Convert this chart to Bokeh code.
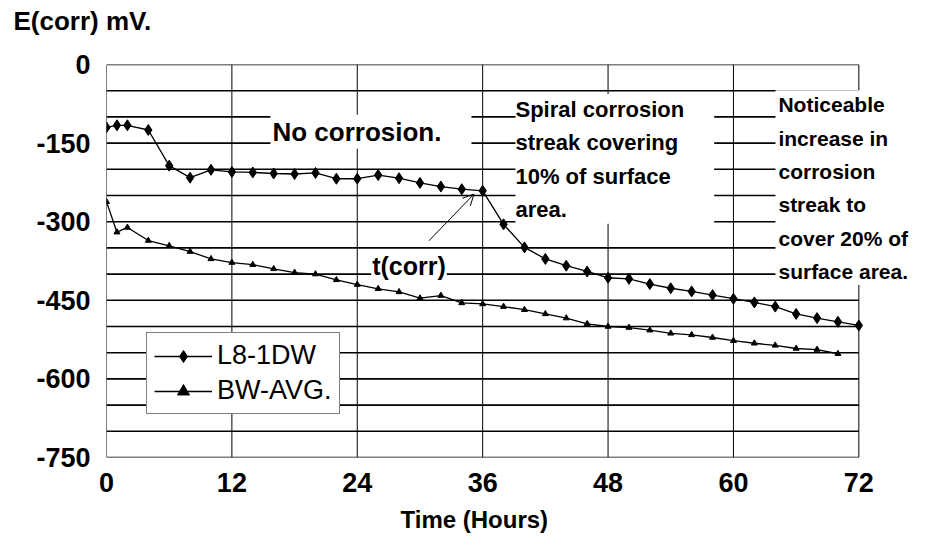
from bokeh.plotting import figure
from bokeh.models import (Label, Arrow, OpenHead, FixedTicker, Range1d, Legend,
                          LegendItem, Title)
from bokeh.embed import file_html
from bokeh.resources import INLINE

# ---- data ----
hours_l8 = [0, 1, 2, 4, 6, 8, 10, 12, 14, 16, 18, 20, 22, 24, 26, 28, 30, 32, 34, 36,
            38, 40, 42, 44, 46, 48, 50, 52, 54, 56, 58, 60, 62, 64, 66, 68, 70, 72]
ecorr_l8 = [-120, -116, -116, -125, -193, -216, -201, -205, -206, -208, -209, -207,
            -218, -218, -211, -217, -226, -233, -238, -241,
            -305, -349, -371, -384, -395, -407, -409, -419, -427, -433, -440, -447,
            -454, -462, -476, -484, -491, -498]

hours_bw = [0, 1, 2, 4, 6, 8, 10, 12, 14, 16, 18, 20, 22, 24, 26, 28, 30, 32, 34, 36,
            38, 40, 42, 44, 46, 48, 50, 52, 54, 56, 58, 60, 62, 64, 66, 68, 70]
ecorr_bw = [-262, -320, -311, -336, -346, -357, -371, -378, -382, -390, -397, -400,
            -411, -420, -428, -434, -446, -441, -455, -457,
            -462, -468, -476, -484, -495, -500, -502, -507, -513, -516, -521, -527,
            -532, -536, -542, -544, -552]

x_ticks = [0, 12, 24, 36, 48, 60, 72]
y_ticks = [0, -150, -300, -450, -600, -750]
y_grid = list(range(0, -751, -50))
X_MIN, X_MAX = 0, 72
Y_MIN, Y_MAX = -750, 0

FONT = "Liberation Sans"

# frame extends past x=72 so that the right-hand note can overhang the chart box
p = figure(width=911, height=534, x_range=Range1d(0, 77.04), y_range=Range1d(Y_MIN, Y_MAX),
           output_backend="svg", toolbar_location=None,
           min_border_left=106, min_border_right=0, min_border_top=64,
           min_border_bottom=77)
p.background_fill_color = "white"
p.border_fill_color = "white"
p.outline_line_color = None

# y caption at the top-left (title), lifted by a blank spacer title
p.add_layout(Title(text=" ", text_font_size="10px", standoff=16), "above")
p.title.text = "E(corr) mV."
p.title.align = "left"
p.title.offset = -93
p.title.text_font = FONT
p.title.text_font_size = "26px"
p.title.text_font_style = "bold"
p.title.text_color = "black"
p.title.standoff = 0

# axes
p.xaxis.ticker = FixedTicker(ticks=x_ticks)
p.yaxis.ticker = FixedTicker(ticks=y_ticks)
p.yaxis.major_label_overrides = {t: str(t) for t in y_ticks}
for ax in (p.xaxis[0], p.yaxis[0]):
    ax.axis_line_color = None
    ax.major_tick_line_color = None
    ax.minor_tick_line_color = None
    ax.major_tick_out = 0
    ax.major_tick_in = 0
    ax.major_label_text_font = FONT
    ax.major_label_text_font_style = "bold"
    ax.major_label_text_font_size = "27px"
    ax.major_label_text_color = "black"
p.xaxis.major_label_standoff = 15
p.yaxis.major_label_standoff = 16

# x caption below the axis, placed as a title so it can sit left of centre
p.add_layout(Title(text=" ", text_font_size="4px", standoff=2), "below")
p.add_layout(Title(text="Time (Hours)", align="left", offset=294, standoff=0,
                   text_font=FONT, text_font_size="24px", text_font_style="bold",
                   text_color="black"), "below")

# grid drawn as segments so it stops at the chart box
p.xgrid.visible = False
p.ygrid.visible = False
p.segment(x0=[X_MIN] * len(y_grid), x1=[X_MAX] * len(y_grid), y0=y_grid, y1=y_grid,
          line_color="black", line_width=1.6, level="underlay")
p.segment(x0=x_ticks, x1=x_ticks, y0=[Y_MIN] * len(x_ticks), y1=[Y_MAX] * len(x_ticks),
          line_color="black", line_width=1, level="underlay")

# series
l1 = p.line(hours_l8, ecorr_l8, line_color="black", line_width=1.3)
s1 = p.scatter(hours_l8, ecorr_l8, marker="diamond", size=11, fill_color="black",
               line_color="black")
l2 = p.line(hours_bw, ecorr_bw, line_color="black", line_width=1.3)
s2 = p.scatter(hours_bw, ecorr_bw, marker="triangle", size=6, fill_color="black",
               line_color="black")

legend = Legend(items=[LegendItem(label="L8-1DW", renderers=[l1, s1]),
                       LegendItem(label="BW-AVG.", renderers=[l2, s2])],
                location=(40, 43), margin=0, padding=7, spacing=4,
                glyph_width=58, glyph_height=30, label_height=30, label_standoff=5,
                label_text_font=FONT, label_text_font_size="27px",
                label_text_color="black",
                border_line_color="black", border_line_width=1.5,
                background_fill_color="white", background_fill_alpha=1)
p.add_layout(legend)


def lab(text, x, y, size, style="bold", align="left", baseline="alphabetic",
        bg=None, pad=None, lh=1.2):
    kw = dict(x=x, y=y, text=text, text_font=FONT, text_font_size=size,
              text_font_style=style, text_align=align, text_baseline=baseline,
              text_color="black", text_line_height=lh)
    if bg:
        kw["background_fill_color"] = bg
        kw["background_fill_alpha"] = 1
    if pad is not None:
        kw["padding"] = pad
    p.add_layout(Label(**kw))


lab("No corrosion.", 15.69, -128.5, "26px", bg="white",
    pad=dict(left=2, right=30, top=2, bottom=2))
lab("Spiral corrosion\nstreak covering\n10% of surface\narea.", 39.14, -56.5,
    "22px", baseline="top", bg="white", pad=dict(left=0, right=30, top=3, bottom=2),
    lh=1.33)
lab("Noticeable\nincrease in\ncorrosion\nstreak to\ncover 20% of\nsurface area.",
    64.02, -49.0, "21px", baseline="top", bg="white",
    pad=dict(left=3, right=20, top=3, bottom=2), lh=1.45)
lab("t(corr)", 25.33, -384.0, "25px", bg="white",
    pad=dict(left=1, right=1, top=0, bottom=0))

p.add_layout(Arrow(end=OpenHead(size=11, line_width=1, line_color="black"),
                   x_start=30.86, y_start=-336.4, x_end=35.17, y_end=-247.4,
                   line_color="black", line_width=1))

open("out.html", "w").write(file_html(p, INLINE))
